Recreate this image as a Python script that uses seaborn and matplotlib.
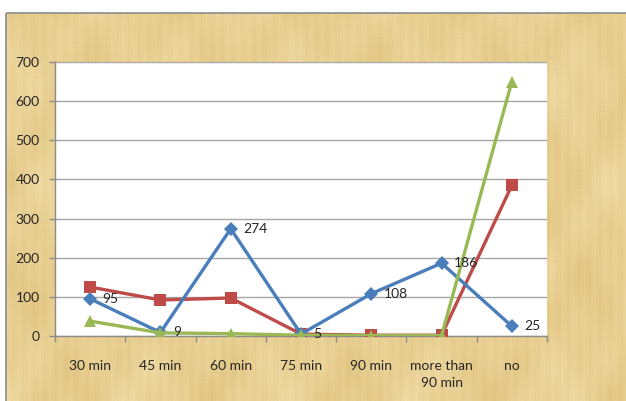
import numpy as np
import pandas as pd
import matplotlib
matplotlib.use("Agg")
import matplotlib.pyplot as plt
import seaborn as sns
from matplotlib.patches import Rectangle

# ---- data ----
categories = ["30 min", "45 min", "60 min", "75 min", "90 min", "more than\n90 min", "no"]
blue_values = [95, 9, 274, 5, 108, 186, 25]
red_values = [125, 92, 97, 5, 2, 2, 385]
green_values = [38, 8, 6, 2, 1, 1, 650]
y_ticks = [0, 100, 200, 300, 400, 500, 600, 700]

series_names = ["series_1", "series_2", "series_3"]
series_colors = {"series_1": "#4A7EBB", "series_2": "#BE4B48", "series_3": "#98B954"}
series_markers = {"series_1": "D", "series_2": "s", "series_3": "^"}
marker_sizes = {"series_1": 7, "series_2": 8.5, "series_3": 8.5}

df = pd.concat([
    pd.DataFrame({"category": categories, "value": vals, "series": name})
    for name, vals in zip(series_names, [blue_values, red_values, green_values])
], ignore_index=True)
df["pos"] = df["category"].map({c: i for i, c in enumerate(categories)})

sns.set_theme(style="white")
plt.rcParams["font.family"] = ["Lato", "DejaVu Sans"]

W, H = 626, 401
fig = plt.figure(figsize=(W / 100, H / 100), dpi=100)
fig.patch.set_facecolor("white")

# ---- papyrus-like backdrop behind the chart ----
bg = fig.add_axes([0, 0, 1, 1], zorder=-5)
bg.set_xlim(0, W)
bg.set_ylim(H, 0)
bg.axis("off")
xx, yy = np.meshgrid(np.arange(W), np.arange(H))
tex = (0.25 * np.sin(xx * 2.1) * np.sin(xx * 0.37 + 1.3)
       + 0.12 * np.sin(yy * 1.7 + 0.4) * np.sin(yy * 0.23)
       + 0.55 * np.sin(xx * 0.045 + yy * 0.012) * np.sin(yy * 0.031 + 2.0)
       + 0.35 * np.sin(xx * 0.11 + 0.7) * np.cos(yy * 0.07)
       + 0.20 * np.sin(xx * 0.6 + 0.3 * np.sin(yy * 0.05)))
tex = (tex - tex.min()) / (tex.max() - tex.min())
light = np.array([242, 222, 170]) / 255
dark = np.array([222, 192, 122]) / 255
img = light[None, None, :] * (1 - tex[..., None]) + dark[None, None, :] * tex[..., None]
bg.imshow(img, extent=(0, W, H, 0), interpolation="bilinear", aspect="auto")
bg.add_patch(Rectangle((0, 0), W, 12.5, facecolor="white", edgecolor="none"))
bg.add_patch(Rectangle((0, 0), 6, H, facecolor="white", edgecolor="none"))
bg.add_patch(Rectangle((6, 12.5), W, H, facecolor="none", edgecolor="#8C8C8C", linewidth=1.2))

# ---- chart ----
ax = fig.add_axes([55 / W, 1 - 336 / H, (547 - 55) / W, (336 - 62) / H])
ax.set_facecolor("white")

sns.lineplot(
    data=df, x="pos", y="value", hue="series", style="series",
    palette=series_colors, markers=series_markers, dashes=False,
    linewidth=2.4, markeredgewidth=0, legend=False, ax=ax, sort=False,
)
for line, name in zip(ax.get_lines(), series_names):
    line.set_markersize(marker_sizes[name])
    line.set_zorder({"series_1": 4, "series_2": 3, "series_3": 5}[name])

# value labels for the blue series
for i, v in enumerate(blue_values):
    ax.annotate(str(v), (i, v), xytext=(9, 0), textcoords="offset points",
                ha="left", va="center", fontsize=10, color="#262626", zorder=6)

ax.set_xlim(-0.5, len(categories) - 0.5)
ax.set_ylim(0, 700)
ax.set_yticks(y_ticks)
ax.set_yticklabels([str(t) for t in y_ticks])
ax.set_xticks(range(len(categories)))
ax.set_xticklabels(categories, linespacing=1.55)
ax.set_xlabel("")
ax.set_ylabel("")

ax.grid(axis="y", color="#A6A6A6", linewidth=1.0)
ax.grid(axis="x", visible=False)
ax.set_axisbelow(True)
for s in ["top", "right"]:
    ax.spines[s].set_visible(False)
for s in ["left", "bottom"]:
    ax.spines[s].set_color("#8C8C8C")
    ax.spines[s].set_linewidth(1.0)

ax.tick_params(axis="y", which="major", left=True, length=4, width=1, color="#8C8C8C",
               pad=7, labelsize=10, labelcolor="#262626")
ax.tick_params(axis="x", which="major", bottom=False, pad=11, labelsize=10,
               labelcolor="#262626")
# category boundary ticks below the axis
ax.set_xticks(np.arange(-0.5, len(categories) + 0.5, 1.0), minor=True)
ax.tick_params(axis="x", which="minor", bottom=True, length=4, width=1, color="#8C8C8C")

fig.savefig("out.png", dpi=100)
